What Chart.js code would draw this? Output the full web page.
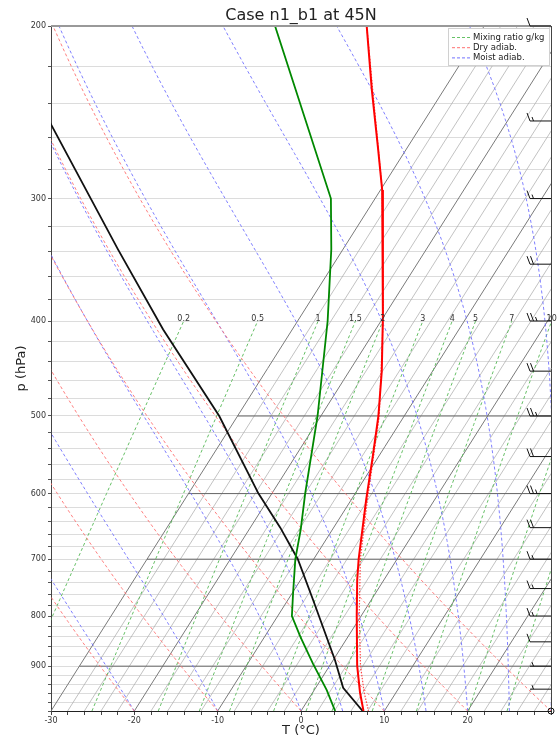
<!DOCTYPE html>
<html>
<head>
<meta charset="utf-8">
<script src="https://cdn.jsdelivr.net/npm/chart.js@4.4.1/dist/chart.umd.min.js"></script>
<style>
html,body{margin:0;padding:0;background:#fff;}
#wrap{width:559px;height:742px;position:relative;}
</style>
</head>
<body>
<div id="wrap"><canvas id="c"></canvas></div>
<script>
const FONT = "'DejaVu Sans', sans-serif";
const titleText = 'Case n1_b1 at 45N';
const xTitle = 'T (°C)';
const yTitle = 'p (hPa)';

// axis set-up
const SKEW = 32.3;            // °C of horizontal shift per unit of ln(p)
const P_TOP = 200, P_BOT = 1000, X_MIN = -30, X_MAX = 30;
const xTickLabels = [-30, -20, -10, 0, 10, 20];
const pressureTicks = [200,220,240,260,280,300,320,340,360,380,400,420,440,460,480,500,520,540,560,580,600,620,640,660,680,700,720,740,760,780,800,820,840,860,880,900,920,940,960,980,1000];
const pressureLabels = [200,300,400,500,600,700,800,900];

// sounding profiles (pressure hPa, temperature °C)
const tempP = [200,232,267,294,338,396,450,500,550,609,700,735,798,899,958,1000];
const tempC = [-44.1,-38.7,-33.4,-29.8,-25.2,-20.1,-16.1,-13.1,-10.7,-8.2,-4.6,-3.2,-0.6,3.3,5.7,7.5];
const tvP = [200,294,396,500,609,700,798,899,958,1000];
const tvC = [-44.1,-29.8,-20.05,-13.0,-8.05,-4.4,-0.3,3.7,6.2,8.1];
const dewP = [200,300,338,400,500,600,653,700,758,800,840,894,952,1000];
const dewC = [-55.1,-35.3,-31.4,-26.4,-20.4,-16.0,-13.8,-12.2,-9.9,-8.3,-5.7,-2.2,1.5,4.1];
const parcelP = [250,338,408,500,600,650,700,770,887,947,1000];
const parcelC = [-75.0,-57.0,-45.5,-32.2,-21.6,-16.4,-11.9,-7.0,0.2,3.3,7.4];

// wind (knots) at the right edge
const windP = [200,250,300,350,400,450,500,550,600,650,700,750,800,850,900,950,1000];
const windKt = [10,15,15,20,25,20,25,20,25,20,15,15,15,10,5,5,0];

// reference line parameters
const isothermC = [-30,-28,-26,-24,-22,-20,-18,-16,-14,-12,-10,-8,-6,-4,-2,0,2,4,6,8,10,12,14,16,18,20,22,24,26,28,30];
const dryThetaC = [-20,-10,0,10,20,30];
const moistT0C = [-20,-10,0,5,10,15,20,25,30];
const mixRatios = [0.2,0.5,1,1.5,2,3,4,5,7,10,15,20];
const mixLabels = [0.2,0.5,1,1.5,2,3,4,5,7,10];
const MIX_TOP = 400;
const darkIsobars = [500,600,700,900];

const legendItems = [
  {label:'Mixing ratio g/kg', color:'#66c266'},
  {label:'Dry adiab.', color:'#ff7070'},
  {label:'Moist adiab.', color:'#7070ff'}
];

// ---- helpers ----
function skx(T, p){ return T + SKEW*Math.log(P_BOT/p); }
function prof(ps, Ts){ return ps.map((p,i)=>({x:skx(Ts[i],p), y:p})); }
function dryT(thC, p){ return (thC+273.15)*Math.pow(p/1000, 0.2857) - 273.15; }
function esat(TK){ const t = TK-273.15; return 6.112*Math.exp(17.67*t/(t+243.5)); }
function moistGrad(TK, p){
  const es = esat(TK); const rs = 0.622*es/(p-es);
  return (287.04*TK + 2.501e6*rs)/(1005.7 + 2.501e6*2.501e6*rs*0.622/(287.04*TK*TK))/p;
}
function mixTd(w, p){ const e = w*p/(622+w); const l = Math.log(e/6.112); return 243.5*l/(17.67-l); }

function dryCurve(th){
  const out=[]; for(let p=P_BOT;p>=P_TOP;p-=10) out.push({x:skx(dryT(th,p),p), y:p}); return out;
}
function moistCurve(T0){
  let T=T0+273.15, p=P_BOT; const h=-5; const out=[{x:skx(T0,p), y:p}];
  while(p>P_TOP){
    const k1=moistGrad(T,p), k2=moistGrad(T+h/2*k1,p+h/2), k3=moistGrad(T+h/2*k2,p+h/2), k4=moistGrad(T+h*k3,p+h);
    T+=h/6*(k1+2*k2+2*k3+k4); p+=h;
    if(p%10===0) out.push({x:skx(T-273.15,p), y:p});
  }
  return out;
}
function mixCurve(w){
  const out=[]; for(let p=P_BOT;p>=MIX_TOP;p-=10) out.push({x:skx(mixTd(w,p),p), y:p}); return out;
}

const line = (data, color, width, dash, order) => ({data, borderColor:color, borderWidth:width, borderDash:dash||[], showLine:true, pointRadius:0, fill:false, tension:0, order});

const datasets = [];
datasets.push(line(prof(tempP,tempC), '#ff0000', 2, [], 0));
datasets.push(line(prof(dewP,dewC), '#008800', 1.8, [], 0));
datasets.push(line(prof(parcelP,parcelC), '#111111', 1.8, [], 0));
datasets.push(line(prof(tvP,tvC), '#ff4444', 1.2, [1.5,1.5], 1));
isothermC.forEach(T => {
  const major = T%10===0;
  datasets.push(line([{x:skx(T,P_BOT),y:P_BOT},{x:skx(T,P_TOP),y:P_TOP}], major?'#7a7a7a':'#a8a8a8', major?1:0.7, [], 30));
});
darkIsobars.forEach(p => datasets.push(line([{x:skx(X_MIN,p),y:p},{x:X_MAX,y:p}], '#666666', 1, [], 25)));
dryThetaC.forEach(th => datasets.push(line(dryCurve(th), '#ff7070', 0.9, [3,2.5], 10)));
moistT0C.forEach(t => datasets.push(line(moistCurve(t), '#7070ff', 0.9, [3,2.5], 10)));
mixRatios.forEach(w => datasets.push(line(mixCurve(w), '#55b855', 0.9, [3,2.5], 10)));

const overlay = {
  id:'overlay',
  afterDatasetsDraw(chart){
    const {ctx, chartArea:ca, scales:{x, y}} = chart;
    ctx.save();
    // mixing ratio labels
    ctx.font = '8px '+FONT; ctx.fillStyle='#333'; ctx.textAlign='center'; ctx.textBaseline='alphabetic';
    mixLabels.forEach(w => {
      ctx.fillText(String(w), x.getPixelForValue(skx(mixTd(w,MIX_TOP),MIX_TOP)), y.getPixelForValue(MIX_TOP));
    });
    // frame
    ctx.strokeStyle='#999'; ctx.lineWidth=2;
    ctx.beginPath(); ctx.moveTo(ca.left, ca.top); ctx.lineTo(ca.right, ca.top); ctx.stroke();
    ctx.strokeStyle='#444'; ctx.lineWidth=1;
    ctx.beginPath(); ctx.moveTo(ca.right+0.5, ca.top); ctx.lineTo(ca.right+0.5, ca.bottom); ctx.stroke();
    // legend
    const lx = ca.right-103, ly = ca.top+2, lw = 102, lh = 38;
    ctx.fillStyle='#fff'; ctx.fillRect(lx, ly, lw, lh);
    ctx.strokeStyle='#d0d0d0'; ctx.lineWidth=1; ctx.strokeRect(lx+0.5, ly+0.5, lw-1, lh-1);
    ctx.font='8.5px '+FONT; ctx.textAlign='left'; ctx.textBaseline='middle';
    legendItems.forEach((it,i) => {
      const yy = ly+9.5+i*10.2;
      ctx.strokeStyle=it.color; ctx.lineWidth=1; ctx.setLineDash([3,2]);
      ctx.beginPath(); ctx.moveTo(lx+4, yy); ctx.lineTo(lx+22, yy); ctx.stroke();
      ctx.setLineDash([]);
      ctx.fillStyle='#222'; ctx.fillText(it.label, lx+25, yy);
    });
    // wind barbs
    ctx.strokeStyle='#111'; ctx.lineWidth=1;
    const x0 = x.getPixelForValue(X_MAX);
    windP.forEach((p,i) => {
      const yy = y.getPixelForValue(p); const s = windKt[i];
      if(s===0){ ctx.beginPath(); ctx.arc(x0, yy, 3, 0, Math.PI*2); ctx.stroke(); return; }
      ctx.beginPath(); ctx.moveTo(x0-21, yy); ctx.lineTo(x0, yy); ctx.stroke();
      let pos = x0-21; let full = Math.floor(s/10); const half = (s%10)>=5;
      if(full===0) pos += 3.5;
      for(let k=0;k<full;k++){ ctx.beginPath(); ctx.moveTo(pos, yy); ctx.lineTo(pos-3, yy-8); ctx.stroke(); pos+=3.5; }
      if(half){ ctx.beginPath(); ctx.moveTo(pos, yy); ctx.lineTo(pos-1.5, yy-4); ctx.stroke(); }
    });
    ctx.restore();
  }
};

Chart.defaults.font.family = FONT;
new Chart(document.getElementById('c'), {
  type:'scatter',
  data:{datasets},
  options:{
    responsive:true, maintainAspectRatio:false, animation:false,
    layout:{padding:{top:0,right:8,bottom:0,left:0}},
    plugins:{
      legend:{display:false}, tooltip:{enabled:false},
      title:{display:true, text:titleText, fullSize:false, color:'#222', font:{family:FONT,size:16,weight:'normal'}, padding:{top:6,bottom:0.8}}
    },
    scales:{
      x:{type:'linear', min:X_MIN, max:X_MAX, position:'bottom',
        afterFit:s=>{s.height=31;},
        ticks:{stepSize:2, autoSkip:false, maxRotation:0, color:'#333', font:{size:8}, padding:1,
          callback:v=>xTickLabels.includes(Math.round(v)) && Math.abs(v-Math.round(v))<1e-6 ? String(Math.round(v)) : ''},
        grid:{drawOnChartArea:false, drawTicks:true, tickLength:4, tickColor:'#444'},
        border:{color:'#222', width:1},
        title:{display:true, text:xTitle, color:'#222', font:{size:13}, padding:{top:0,bottom:4}}
      },
      y:{type:'logarithmic', reverse:true, min:P_TOP, max:P_BOT, position:'left',
        afterFit:s=>{s.width=51;},
        afterBuildTicks:s=>{s.ticks = pressureTicks.map(v=>({value:v}));},
        ticks:{autoSkip:false, color:'#333', font:{size:8}, padding:2,
          callback:v=>pressureLabels.includes(v) ? String(v) : ''},
        grid:{color:'#dcdcdc', lineWidth:1, tickLength:3, tickColor:'#555'},
        border:{color:'#444', width:1},
        title:{display:true, text:yTitle, color:'#222', font:{size:13}, padding:{top:14,bottom:0}}
      }
    }
  },
  plugins:[overlay]
});
</script>
</body>
</html>
